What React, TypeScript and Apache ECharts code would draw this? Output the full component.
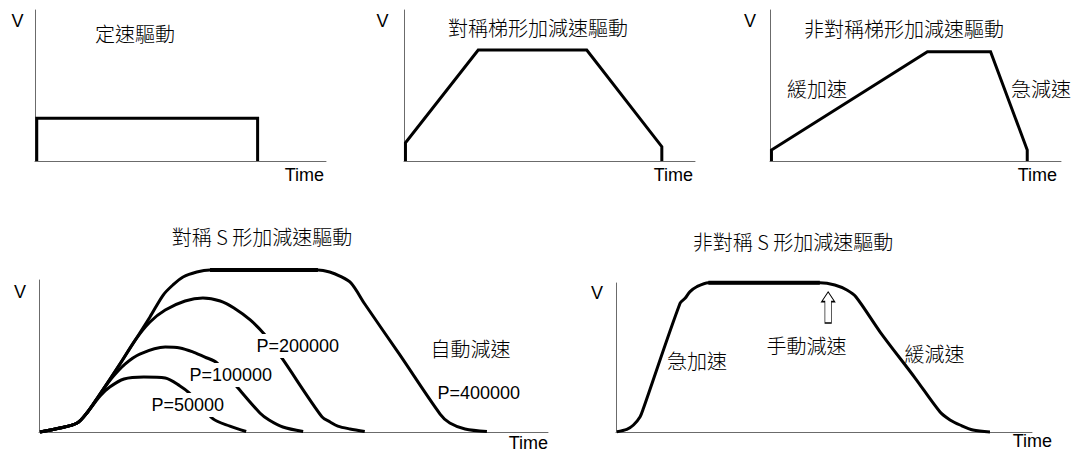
import React, { useEffect, useRef } from "react";
import * as echarts from "echarts";

// ---- Data (time, velocity) in relative units 0..100 of each panel's axes ----
const constSpeed = [[0.6, 0], [0.6, 28.3], [76.5, 28.3], [76.5, 0]];
const symTrapezoid = [[0.5, 0], [0.5, 12.1], [25.5, 73.5], [62.8, 73.5], [88.6, 9.5], [88.6, 0]];
const asymTrapezoid = [[0.5, 0], [0.5, 7.3], [54.1, 72.4], [75.8, 72.4], [88.4, 7.3], [88.4, 0]];

const sCurveP400000 = [
  [0.2, 0], [4.1, 2.6], [7.5, 5.9], [9.4, 12.5], [12.0, 25.0], [15.9, 44.7], [21.8, 75.7],
  [24.4, 90.1], [26.3, 96.7], [28.3, 102.0], [31.0, 105.3], [33.6, 106.6], [54.8, 106.6],
  [57.1, 105.3], [59.1, 102.6], [61.3, 98.0], [64.0, 84.2], [70.9, 50.7], [78.8, 11.8],
  [80.7, 5.9], [83.7, 2.0], [88.0, 0.3],
];
const sCurveP200000 = [
  [0.2, 0], [4.1, 2.6], [7.5, 5.9], [9.4, 12.5], [12.0, 25.0], [15.9, 44.7], [18.9, 60.5],
  [21.8, 72.4], [24.8, 80.3], [28.7, 86.2], [32.2, 88.2], [35.6, 86.2], [38.3, 81.6],
  [41.5, 73.7], [44.4, 63.8], [47.7, 48.7], [55.6, 9.9], [57.2, 6.6], [58.7, 3.9],
  [61.1, 2.0], [64.0, 0.3],
];
const sCurveP100000 = [
  [0.2, 0], [4.1, 2.6], [7.5, 5.9], [9.4, 12.5], [12.0, 25.0], [14.3, 35.5], [16.9, 44.7],
  [19.8, 51.3], [24.8, 55.9], [27.7, 55.3], [30.3, 52.6], [32.6, 49.3], [35.0, 45.4],
  [39.1, 28.9], [43.4, 12.5], [45.2, 7.9], [47.9, 3.3], [51.9, 0.3],
];
const sCurveP50000 = [
  [0.2, 0], [4.1, 2.6], [7.5, 5.9], [9.4, 12.5], [12.0, 23.7], [13.9, 29.6], [16.7, 34.9],
  [20.6, 36.2], [24.8, 35.5], [27.7, 30.3], [29.5, 25.7], [34.2, 8.6], [37.5, 3.9], [40.7, 0.3],
];
const asymSCurve = [
  [0.2, 0.2], [2.6, 1.8], [4.2, 4.7], [5.8, 10.3], [6.6, 15.9], [15.4, 86.4], [16.6, 89.7],
  [17.8, 94.2], [19.4, 97.5], [22.2, 100.2], [49.0, 100.2], [52.6, 98.7], [55.5, 95.3],
  [57.7, 90.6], [63.5, 67.1], [71.9, 36.2], [77.9, 13.4], [80.3, 8.1], [82.7, 4.7],
  [85.8, 1.3], [89.9, 0],
];
const manualDecelPoint = [51.0, 83.6];

const titles = ["定速驅動", "對稱梯形加減速驅動", "非對稱梯形加減速驅動", "對稱 S 形加減速驅動", "非對稱 S 形加減速驅動"];
const pLabels = ["P=200000", "P=100000", "P=50000", "P=400000"];

const LATIN = '"Liberation Sans", Arial, sans-serif';
const CJK = '"Noto Sans CJK TC", "Noto Sans CJK SC", sans-serif';

const grids = [
  { left: 35, top: 10, width: 291, height: 151 },
  { left: 404, top: 10, width: 291, height: 151 },
  { left: 770, top: 10, width: 291, height: 151 },
  { left: 39, top: 280, width: 509, height: 152 },
  { left: 616, top: 283, width: 416, height: 149 },
];

function txt(text: string, x: number, y: number, family: string, size: number, align = "left", extra: any = {}, weight = "normal") {
  return {
    type: "text",
    x,
    y,
    z: 50,
    style: {
      text,
      font: `${weight} ${size}px ${family}`,
      fill: "#000",
      textAlign: align,
      align,
      textVerticalAlign: "middle",
      verticalAlign: "middle",
      ...extra,
    },
  };
}

export default function App() {
  const ref = useRef<HTMLDivElement>(null);
  useEffect(() => {
    if (!ref.current) return;
    const chart = echarts.init(ref.current, null, { renderer: "svg" });
    const axisLine = { show: true, lineStyle: { color: "#6b6b6b", width: 1 } };
    const xAxis = grids.map((_, i) => ({
      type: "value", gridIndex: i, min: 0, max: 100,
      axisLine, axisTick: { show: false }, axisLabel: { show: false }, splitLine: { show: false },
    }));
    const yAxis = grids.map((_, i) => ({
      type: "value", gridIndex: i, min: 0, max: 100,
      axisLine, axisTick: { show: false }, axisLabel: { show: false }, splitLine: { show: false },
    }));
    const line = (i: number, data: number[][], smooth: any = false, width = 3) => ({
      type: "line", xAxisIndex: i, yAxisIndex: i, data, smooth, symbol: "none", clip: false,
      lineStyle: { color: "#000", width, cap: "butt", join: "miter" }, z: 3,
    });
    const flat = (arr: number[][], y: number) => arr.filter((p) => p[1] === y);
    const topP400 = Math.max(...sCurveP400000.map((p) => p[1]));
    const topAsym = Math.max(...asymSCurve.map((p) => p[1]));

    const sw = { backgroundColor: "#fff", padding: [3, 1] };
    const C = (t: string, x: number, y: number, align = "left") => txt(t, x, y, CJK, 20, align, {}, "300");
    const option: any = {
      animation: false,
      grid: grids.map((g) => ({ ...g, containLabel: false })),
      xAxis,
      yAxis,
      series: [
        line(0, constSpeed),
        line(1, symTrapezoid),
        line(2, asymTrapezoid),
        line(3, sCurveP400000, 0.3, 3),
        line(3, flat(sCurveP400000, topP400), false, 4),
        line(3, sCurveP200000, 0.3, 3),
        line(3, sCurveP100000, 0.3, 3),
        line(3, sCurveP50000, 0.3, 3),
        {
          ...line(4, asymSCurve, 0.3, 3),
          markPoint: {
            silent: true,
            symbol: "path://M6.5,0 L13,10 L9.75,10 L9.75,32 L3.25,32 L3.25,10 L0,10 Z",
            symbolSize: [13, 31],
            symbolKeepAspect: false,
            itemStyle: { color: "#fff", borderColor: "#000", borderWidth: 1 },
            label: { show: false },
            data: [{ coord: manualDecelPoint }],
          },
        },
        line(4, flat(asymSCurve, topAsym), false, 4),
      ],
      graphic: {
        elements: [
          // V labels
          txt("V", 17.5, 21, LATIN, 18, "center"),
          txt("V", 382.5, 21, LATIN, 18, "center"),
          txt("V", 750, 21, LATIN, 18, "center"),
          txt("V", 20, 292, LATIN, 18, "center"),
          txt("V", 597, 293, LATIN, 18, "center"),
          // Time labels
          txt("Time", 324, 175, LATIN, 18, "right"),
          txt("Time", 693, 175, LATIN, 18, "right"),
          txt("Time", 1057, 175, LATIN, 18, "right"),
          txt("Time", 548, 443, LATIN, 18, "right"),
          txt("Time", 1052, 441, LATIN, 18, "right"),
          // titles
          C(titles[0], 135, 33, "center"),
          C(titles[1], 538, 27, "center"),
          C(titles[2], 904, 28, "center"),
          C(titles[3], 262, 236, "center"),
          C(titles[4], 793, 241, "center"),
          // panel 3 annotations
          C("緩加速", 817, 88, "center"),
          C("急減速", 1011, 88, "left"),
          // panel 4 annotations
          txt(pLabels[0], 255.5, 346, LATIN, 18, "left", sw),
          txt(pLabels[1], 188.5, 375, LATIN, 18, "left", sw),
          txt(pLabels[2], 150.5, 405, LATIN, 18, "left", sw),
          C("自動減速", 430.5, 348, "left"),
          txt(pLabels[3], 437.5, 393, LATIN, 18, "left"),
          // panel 5 annotations
          C("急加速", 667, 360, "left"),
          C("手動減速", 766.5, 345, "left"),
          C("緩減速", 904.5, 353, "left"),
        ],
      },
    };
    chart.setOption(option);
    return () => chart.dispose();
  }, []);
  return (
    <div
      ref={ref}
      style={{ position: "absolute", left: 0, top: 0, width: 1074, height: 453, background: "#fff" }}
    />
  );
}
